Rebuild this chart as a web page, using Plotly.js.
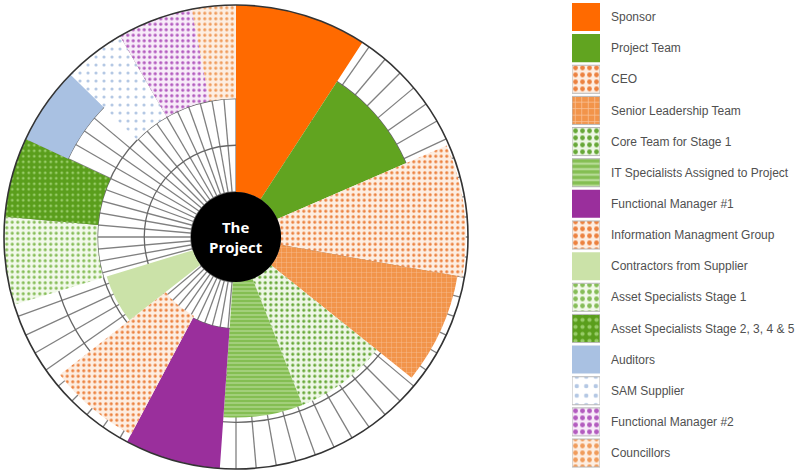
<!DOCTYPE html>
<html>
<head>
<meta charset="utf-8">
<script src="https://cdn.plot.ly/plotly-3.0.1.min.js"></script>
<style>html,body{margin:0;padding:0;background:#fff;}#chart{width:811px;height:473px;}</style>
</head>
<body>
<div id="chart"></div>
<script>
// ---- data ----
const categories = [
  "Sponsor", "Project Team", "CEO", "Senior Leadership Team", "Core Team for Stage 1",
  "IT Specialists Assigned to Project", "Functional Manager #1", "Information Managment Group",
  "Contractors from Supplier", "Asset Specialists Stage 1", "Asset Specialists Stage 2, 3, 4 & 5",
  "Auditors", "SAM Supplier", "Functional Manager #2", "Councillors"
];
const angleStart = [0, 33, 66.5, 100, 128.7, 158.4, 184, 208, 232, 253, 275, 295, 314.5, 330, 349];
const angleEnd   = [33, 66.5, 100, 128.7, 158.4, 184, 208, 232, 253, 275, 295, 314.5, 330, 349, 360];
const levelInner = [0, 0, 0, 0, 0, 0, 1, 0.95, 0, 2, 2, 3, 2, 2, 2];
const levelOuter = [4, 3, 3.95, 3.85, 2.9, 2.9, 4, 3.82, 1.93, 4, 4, 4, 4, 4, 4];

// ---- styles ----
const styles = [
  {color: "#ff6a00"},
  {color: "#61a420"},
  {shape: ".", fg: "#ec8240", bg: "#fdeee2", size: 5.5, sol: 0.26},
  {shape: "+", fg: "#f8c49a", bg: "#f2944a", size: 5, sol: 0.15},
  {shape: ".", fg: "#67a838", bg: "#eef7e6", size: 5.5, sol: 0.26},
  {shape: "-", fg: "#b6db95", bg: "#84be52", size: 4, sol: 0.3},
  {color: "#9a2f9c"},
  {shape: ".", fg: "#ec8240", bg: "#fdeee2", size: 5.5, sol: 0.26},
  {color: "#cbe2a8"},
  {shape: ".", fg: "#86bd58", bg: "#f2f9ea", size: 5.5, sol: 0.26},
  {shape: ".", fg: "#98cc68", bg: "#5a9e1c", size: 5.5, sol: 0.2},
  {color: "#a9c1e2"},
  {shape: ".", fg: "#b4c8e4", bg: "#ffffff", size: 8, sol: 0.12},
  {shape: ".", fg: "#b35cbf", bg: "#f8ecf9", size: 5.5, sol: 0.28},
  {shape: ".", fg: "#f09c5c", bg: "#fdeee2", size: 5.5, sol: 0.26}
];

function markerFor(i, legend) {
  const s = styles[i];
  const m = {line: {width: legend && s.shape ? 1 : 0, color: "#b8b8b8"}};
  if (s.shape) {
    m.color = s.bg;
    m.pattern = {shape: s.shape, fgcolor: s.fg, bgcolor: s.bg,
                 size: legend ? s.size + 1.5 : s.size, solidity: legend ? Math.min(s.sol * 1.4, 0.5) : s.sol, fillmode: "replace"};
  } else {
    m.color = s.color;
  }
  return m;
}

const traces = [];
categories.forEach((c, i) => {
  traces.push({
    type: "barpolar",
    name: c,
    theta: [(angleStart[i] + angleEnd[i]) / 2],
    width: [angleEnd[i] - angleStart[i]],
    base: [levelInner[i]],
    r: [levelOuter[i] - levelInner[i]],
    marker: markerFor(i, false),
    showlegend: false,
    hoverinfo: "skip",
    subplot: "polar"
  });
});
// black centre disc ("The Project")
const holeLevel = -0.963;
traces.push({
  type: "barpolar", theta: [180], width: [360], base: [holeLevel], r: [-holeLevel],
  marker: {color: "#000", line: {width: 0}}, showlegend: false, hoverinfo: "skip", subplot: "polar"
});

// legend key drawn as a small bar subplot
categories.forEach((c, i) => {
  traces.push({
    type: "bar", orientation: "h",
    y: [c], x: [1],
    marker: markerFor(i, true),
    xaxis: "x2", yaxis: "y2",
    showlegend: false, hoverinfo: "skip"
  });
});

const layout = {
  width: 811, height: 473,
  margin: {l: 0, r: 0, t: 0, b: 0},
  paper_bgcolor: "#fff",
  showlegend: false,
  bargap: 0.1,
  font: {family: "Liberation Sans, Arial, sans-serif", color: "#444"},
  polar: {
    domain: {x: [4/811, 468/811], y: [4/473, 468/473]},
    bgcolor: "#fff",
    hole: 0,
    angularaxis: {
      direction: "clockwise", rotation: 90, thetaunit: "degrees",
      tickmode: "linear", tick0: 0, dtick: 5,
      showticklabels: false, ticks: "",
      showgrid: true, gridcolor: "#808080", gridwidth: 1.3,
      showline: true, linecolor: "#333", linewidth: 1.6
    },
    radialaxis: {
      range: [holeLevel, 4], tickmode: "linear", tick0: 0, dtick: 1,
      showticklabels: false, ticks: "", showline: false,
      showgrid: true, gridcolor: "#666", gridwidth: 1.3
    }
  },
  xaxis2: {domain: [572/811, 600/811], range: [0, 1], showgrid: false, zeroline: false,
           showticklabels: false, showline: false, fixedrange: true, anchor: "y2"},
  yaxis2: {domain: [4.4/473, 471.6/473], type: "category", autorange: "reversed",
           categoryorder: "array", categoryarray: categories,
           side: "right", anchor: "x2", showgrid: false, zeroline: false, showline: false,
           ticks: "", ticklabelstandoff: 10,
           tickfont: {size: 12, color: "#505050", family: "Liberation Sans, Arial, sans-serif"}},
  annotations: [{
    xref: "paper", yref: "paper", x: 236/811, y: (473-237)/473,
    text: "<b>The<br>Project</b>", showarrow: false,
    font: {family: "Open Sans, sans-serif", size: 15, color: "#fff"},
    xanchor: "center", yanchor: "middle"
  }]
};

Plotly.newPlot("chart", traces, layout, {displayModeBar: false, staticPlot: true});
</script>
</body>
</html>
